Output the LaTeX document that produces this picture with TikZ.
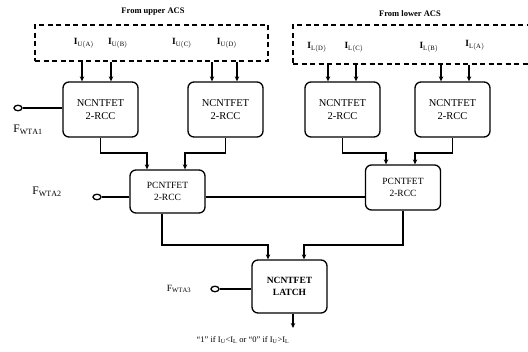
\documentclass[tikz,border=0pt]{standalone}
\usepackage{fontspec}
\setmainfont{Liberation Serif}
\usetikzlibrary{arrows.meta,shapes.geometric}

\tikzset{
  cell/.style={draw, line width=1.3pt, rounded corners=6pt, align=center,
    minimum width=75pt, font=\fontsize{10.5}{12.5}\selectfont},
  port/.style={draw, ellipse, line width=1.3pt, minimum width=8pt,
    minimum height=5.5pt, inner sep=0pt},
  wire/.style={line width=1.3pt},
  feed/.style={line width=1.3pt, -{Stealth[length=5pt,width=4.5pt]}},
  acs/.style={draw, dashed, line width=1.4pt, dash pattern=on 5pt off 3.5pt,
    inner sep=0pt},
  cur/.style={font=\bfseries\fontsize{9.5}{10}\selectfont},
  sig/.style={font=\fontsize{11.5}{12}\selectfont}
}

\begin{document}
\begin{tikzpicture}[x=1pt,y=-1pt]
  \useasboundingbox (0,0) rectangle (528,352);

  % dashed source boxes
  \node[acs, minimum width=233pt, minimum height=36pt] (up)  at (151.5,43) {};
  \node[acs, minimum width=240pt, minimum height=39pt] (low) at (413,44.5) {};
  \node[font=\bfseries\fontsize{8.5}{10}\selectfont] (upt)  at (153,12) {From upper ACS};
  \node[font=\bfseries\fontsize{8.5}{10}\selectfont] (lowt) at (410,14) {From lower ACS};

  \begin{scope}[every node/.style={cur}]
    \node (ua) at (84,43)  {I$_{\mathrm{U(A)}}$};
    \node (ub) at (118,43) {I$_{\mathrm{U(B)}}$};
    \node (uc) at (182,43) {I$_{\mathrm{U(C)}}$};
    \node (ud) at (227,43) {I$_{\mathrm{U(D)}}$};
    \node (ld) at (317,47) {I$_{\mathrm{L(D)}}$};
    \node (lc) at (354,47) {I$_{\mathrm{L(C)}}$};
    \node (lb) at (429,47) {I$_{\mathrm{L(B)}}$};
    \node (la) at (475,45) {I$_{\mathrm{L(A)}}$};
  \end{scope}

  % cells
  \node[cell, minimum height=55pt] (nA) at (100.5,109.5) {NCNTFET\\2-RCC};
  \node[cell, minimum height=55pt] (nB) at (225.5,109.5) {NCNTFET\\2-RCC};
  \node[cell, minimum height=55pt] (nC) at (342.5,109.5) {NCNTFET\\2-RCC};
  \node[cell, minimum height=55pt] (nD) at (452.5,109.5) {NCNTFET\\2-RCC};
  \node[cell, minimum height=43pt, font=\fontsize{9.5}{11.5}\selectfont] (pL) at (167.5,191.5) {PCNTFET\\2-RCC};
  \node[cell, minimum height=45pt, font=\fontsize{9.5}{11.5}\selectfont] (pR) at (403,187.5) {PCNTFET\\2-RCC};
  \node[cell, minimum height=53pt, font=\bfseries\fontsize{9.5}{11.5}\selectfont] (latch) at (289.5,286.5) {NCNTFET\\LATCH};

  % control inputs
  \node[port] (f1) at (18,108)  {};
  \node[port] (f2) at (97,197)  {};
  \node[port] (f3) at (215,289) {};
  \node[sig]  (f1t) at (28,130) {F$_{\mathrm{WTA1}}$};
  \node[sig]  (f2t) at (47,192) {F$_{\mathrm{WTA2}}$};
  \node[sig, font=\fontsize{9.5}{10}\selectfont] (f3t) at (179,289) {F$_{\mathrm{WTA3}}$};
  \node[font=\fontsize{8.5}{9}\selectfont] (out) at (243,340)
    {``1'' if I$_{\mathrm{U}}$<I$_{\mathrm{L}}$ or ``0'' if I$_{\mathrm{U}}$>I$_{\mathrm{L}}$};

  % currents into the first stage
  \draw[feed] (up.south -| 82,0)   -- (nA.north -| 82,0);
  \draw[feed] (up.south -| 111,0)  -- (nA.north -| 111,0);
  \draw[feed] (up.south -| 212,0)  -- (nB.north -| 212,0);
  \draw[feed] (up.south -| 237,0)  -- (nB.north -| 237,0);
  \draw[feed] (low.south -| 328,0) -- (nC.north -| 328,0);
  \draw[feed] (low.south -| 356,0) -- (nC.north -| 356,0);
  \draw[feed] (low.south -| 441,0) -- (nD.north -| 441,0);
  \draw[feed] (low.south -| 469,0) -- (nD.north -| 469,0);

  % second stage
  \draw[feed] (nA.south) -- (100.5,153) -| (pL.north -| 147,0);
  \draw[feed] (nB.south) -- (225.5,153) -| (pL.north -| 185,0);
  \draw[feed] (nC.south) -- (342.5,153) -| (pR.north -| 386,0);
  \draw[feed] (nD.south) -- (452.5,153) -| (pR.north -| 415,0);

  % latch inputs and output
  \draw[feed] (pL.south -| 162,0) -- (162,245) -| (latch.north -| 268,0);
  \draw[feed] (pR.south) -- (403,245) -| (latch.north -| 304,0);
  \draw[feed] (latch.south -| 293,0) -- (293,328);

  % control wires
  \draw[wire] (f1) -- (nA.west |- f1);
  \draw[wire] (f2) -- (pL.west |- f2);
  \draw[wire] (f3) -- (latch.west |- f3);
  \draw[wire] (pL.east |- 0,197) -- (pR.west |- 0,197);

\end{tikzpicture}
\end{document}
